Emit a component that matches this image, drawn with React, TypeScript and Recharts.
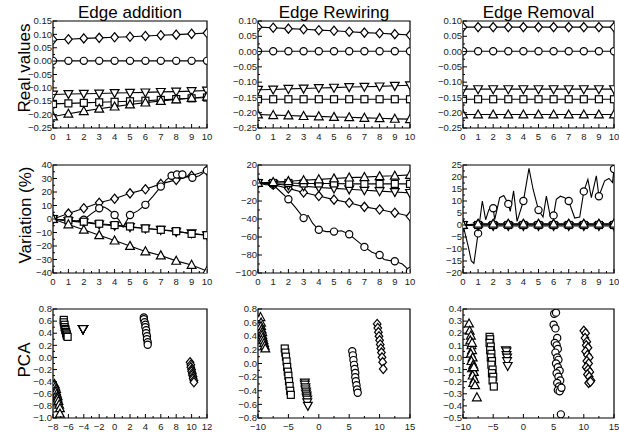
import React from "react";
import { ComposedChart, Line, Scatter, XAxis, YAxis, ReferenceArea } from "recharts";

// x steps shared by the line panels
const STEPS = [0, 1, 2, 3, 4, 5, 6, 7, 8, 9, 10];

// ---- row 1: real values
const addRealDiamond = [0.08, 0.082, 0.085, 0.087, 0.089, 0.091, 0.094, 0.097, 0.099, 0.102, 0.105];
const addRealCircle = [0.001, 0.001, 0.001, 0.001, 0.001, 0.001, 0.001, 0.001, 0.001, 0.001, 0.001];
const addRealDown = [-0.125, -0.123, -0.122, -0.121, -0.119, -0.118, -0.117, -0.115, -0.114, -0.112, -0.11];
const addRealSquare = [-0.16, -0.158, -0.156, -0.154, -0.152, -0.15, -0.148, -0.145, -0.142, -0.139, -0.136];
const addRealUp = [-0.207, -0.197, -0.187, -0.178, -0.17, -0.162, -0.155, -0.149, -0.143, -0.138, -0.133];

const rewRealDiamond = [0.08, 0.078, 0.075, 0.073, 0.07, 0.068, 0.065, 0.062, 0.06, 0.057, 0.054];
const rewRealCircle = [0.001, 0.001, 0.001, 0.001, 0.001, 0.001, 0.001, 0.001, 0.001, 0.001, 0.001];
const rewRealDown = [-0.125, -0.124, -0.122, -0.121, -0.119, -0.118, -0.116, -0.115, -0.114, -0.112, -0.11];
const rewRealSquare = [-0.156, -0.156, -0.156, -0.156, -0.156, -0.156, -0.156, -0.156, -0.156, -0.156, -0.156];
const rewRealUp = [-0.206, -0.208, -0.209, -0.211, -0.212, -0.214, -0.215, -0.217, -0.218, -0.22, -0.221];

const remRealDiamond = [0.08, 0.08, 0.08, 0.08, 0.08, 0.08, 0.08, 0.08, 0.08, 0.08, 0.08];
const remRealCircle = [0.001, 0.001, 0.001, 0.001, 0.001, 0.001, 0.001, 0.001, 0.001, 0.001, 0.001];
const remRealDown = [-0.123, -0.123, -0.123, -0.123, -0.123, -0.123, -0.123, -0.123, -0.123, -0.123, -0.123];
const remRealSquare = [-0.156, -0.156, -0.156, -0.156, -0.156, -0.156, -0.156, -0.156, -0.156, -0.156, -0.156];
const remRealUp = [-0.206, -0.206, -0.206, -0.206, -0.206, -0.206, -0.206, -0.206, -0.206, -0.206, -0.206];

// ---- row 2: variation (%)
const addVarDiamond = [0, 4, 8, 12, 15, 19, 22, 26, 29, 32, 36];
const addVarDown = [0, -1.5, -2.5, -4, -5, -6, -7, -8, -9.5, -10.5, -12];
const addVarSquare = [0, -1, -2, -3.5, -4.5, -5.5, -7, -8, -9, -11, -12];
const addVarUp = [0, -4, -8, -12, -16, -20, -24, -27, -31, -34, -38.5];
// circle series has extra unmarked points (mark: 1 = marker drawn)
const addVarCircleX = [0, 0.5, 1, 1.5, 2, 2.5, 3, 3.3, 3.6, 4, 4.3, 4.55, 5, 5.5, 6, 6.5, 7, 7.35, 7.7, 8.05, 8.4, 8.7, 9.05, 9.5, 10];
const addVarCircleY = [0, -0.5, -1, -1.5, -0.5, 4, 8, 9, 7, 3, -1, -6, 3, 6, 10.5, 17, 24, 29, 32, 33, 33, 31.5, 30.5, 32, 36];
const addVarCircleMark = [1, 0, 1, 0, 1, 0, 1, 0, 0, 1, 0, 0, 1, 0, 1, 0, 1, 0, 1, 1, 1, 0, 1, 0, 1];

const rewVarUp = [0, 1, 2, 3, 4, 5, 6, 6.5, 7.5, 8, 9];
const rewVarSquare = [0, 0, 0, -0.5, -0.5, -0.5, -1, -1, -1, -1, -1];
const rewVarDown = [0, -1, -2.5, -3.5, -5, -6, -7, -8, -9, -10, -11];
const rewVarDiamond = [0, -2, -6, -10.5, -14.5, -18.5, -22, -26.5, -29.5, -33, -37];
const rewVarCircleX = [0, 0.5, 1, 1.5, 2, 2.5, 3, 3.3, 3.6, 4, 4.5, 5, 5.5, 6, 6.5, 7, 7.5, 8, 8.3, 8.6, 9, 9.5, 10];
const rewVarCircleY = [0, -2, -2, -10, -18, -28, -39, -36, -45, -52, -54, -54, -53, -57, -64, -71, -77, -80, -85, -86, -87, -90, -98];
const rewVarCircleMark = [1, 0, 1, 0, 1, 0, 1, 0, 0, 1, 0, 1, 0, 1, 0, 1, 0, 1, 0, 0, 1, 0, 1];

const remVarDiamond = [0, 0.3, 0.3, 0.3, 0.3, 0.3, 0.3, 0.3, 0.3, 0.3, 0.3];
const remVarUp = [0, 0.5, 0.5, 0.5, 0.5, 0.5, 0.5, 0.5, 0.5, 0.5, 0.5];
const remVarSquare = [0, 0, 0, 0, 0, 0, 0, 0, 0, 0, 0];
const remVarDown = [0, -0.4, -0.4, -0.4, -0.4, -0.4, -0.4, -0.4, -0.4, -0.4, -0.4];
const remVarCircleX = [0, 0.35, 0.55, 0.72, 1, 1.28, 1.5, 1.72, 2, 2.1, 2.43, 2.7, 3, 3.13, 3.35, 3.58, 4, 4.37, 4.64, 5, 5.3, 5.52, 5.78, 6, 6.18, 6.45, 6.73, 7, 7.4, 7.73, 8, 8.27, 8.5, 8.83, 9, 9.38, 9.67, 9.9, 10];
const remVarCircleY = [0, -9, -15, -16, -3.5, 10, 2.2, 6.5, 7, 2.2, 11.4, 12.3, 8.8, 5.7, 14.2, 1.5, 10, 23.6, 14.9, 6.2, 3.3, 12, 3.6, 4, 10.7, 12, 11.4, 10, 2.9, 3.3, 14, 19, 11.4, 20.5, 12, 18.4, 19.4, 17.7, 23.3];
const remVarCircleMark = [1, 0, 0, 0, 1, 0, 0, 0, 1, 0, 0, 0, 1, 0, 0, 0, 1, 0, 0, 1, 0, 0, 0, 1, 0, 0, 0, 1, 0, 0, 1, 0, 0, 0, 1, 0, 0, 0, 1];

// ---- row 3: PCA projections
const addPcaUpX = [-7.8, -7.7, -7.6, -7.6, -7.5, -7.4, -7.4, -7.3, -7.2, -7.1, -7.1];
const addPcaUpY = [-0.44, -0.48, -0.52, -0.56, -0.6, -0.64, -0.68, -0.72, -0.78, -0.84, -0.93];
const addPcaSquareX = [-6.6, -6.6, -6.5, -6.5, -6.4, -6.4, -6.3, -6.3, -6.2, -6.2, -6.1];
const addPcaSquareY = [0.62, 0.58, 0.54, 0.5, 0.47, 0.45, 0.42, 0.4, 0.38, 0.36, 0.34];
const addPcaDownX = [-4.1, -4.1, -4.1, -4.1, -4.1, -4.1, -4.1, -4.1, -4.1, -4.1, -4.1];
const addPcaDownY = [0.47, 0.47, 0.47, 0.47, 0.47, 0.47, 0.47, 0.47, 0.47, 0.47, 0.47];
const addPcaCircleX = [3.8, 3.8, 3.9, 4.0, 4.0, 4.1, 4.1, 4.2, 4.2, 4.3, 4.3];
const addPcaCircleY = [0.66, 0.63, 0.58, 0.54, 0.5, 0.45, 0.4, 0.35, 0.3, 0.25, 0.21];
const addPcaDiamondX = [9.8, 9.9, 9.9, 10.0, 10.0, 10.1, 10.1, 10.2, 10.2, 10.3, 10.3];
const addPcaDiamondY = [-0.08, -0.12, -0.16, -0.2, -0.23, -0.26, -0.29, -0.32, -0.35, -0.38, -0.41];

const rewPcaUpX = [-9.6, -9.5, -9.5, -9.4, -9.3, -9.3, -9.2, -9.1, -9.0, -8.9, -8.8];
const rewPcaUpY = [0.68, 0.6, 0.55, 0.5, 0.46, 0.42, 0.38, 0.34, 0.3, 0.26, 0.22];
const rewPcaSquareX = [-5.6, -5.5, -5.4, -5.3, -5.2, -5.1, -5.0, -4.9, -4.8, -4.7, -4.6];
const rewPcaSquareY = [0.22, 0.16, 0.1, 0.03, -0.05, -0.12, -0.18, -0.26, -0.33, -0.4, -0.46];
const rewPcaDownX = [-2.3, -2.3, -2.2, -2.2, -2.1, -2.1, -2.0, -2.0, -1.9, -1.9, -1.8];
const rewPcaDownY = [-0.28, -0.31, -0.35, -0.38, -0.41, -0.44, -0.47, -0.5, -0.53, -0.57, -0.62];
const rewPcaCircleX = [5.5, 5.6, 5.7, 5.8, 5.9, 6.0, 6.0, 6.1, 6.2, 6.3, 6.4];
const rewPcaCircleY = [0.18, 0.12, 0.05, -0.02, -0.08, -0.14, -0.2, -0.26, -0.32, -0.38, -0.43];
const rewPcaDiamondX = [9.6, 9.7, 9.8, 9.9, 10.0, 10.1, 10.2, 10.3, 10.4, 10.5, 10.6];
const rewPcaDiamondY = [0.58, 0.52, 0.46, 0.4, 0.34, 0.28, 0.22, 0.16, 0.09, 0.02, -0.08];

const remPcaUpX = [-9.0, -8.9, -8.7, -8.8, -8.6, -8.5, -8.7, -8.4, -8.6, -8.3, -8.5, -8.2, -8.4, -8.1, -8.3, -8.0, -8.2, -8.5, -7.7];
const remPcaUpY = [0.28, 0.22, 0.18, 0.14, 0.1, 0.06, 0.03, 0.0, -0.03, -0.06, -0.09, -0.12, -0.15, -0.18, -0.21, -0.23, -0.08, 0.12, -0.33];
const remPcaSquareX = [-5.6, -5.5, -5.6, -5.4, -5.5, -5.3, -5.4, -5.2, -5.3, -5.1, -5.2, -5.0, -5.1, -4.9];
const remPcaSquareY = [0.17, 0.15, 0.12, 0.09, 0.06, 0.03, 0.0, -0.03, -0.06, -0.1, -0.13, -0.16, -0.19, -0.24];
const remPcaDownX = [-2.9, -2.8, -2.8, -2.7, -2.7, -2.6];
const remPcaDownY = [0.06, 0.05, 0.02, 0.0, -0.03, -0.07];
const remPcaCircleX = [5.1, 5.4, 5.0, 5.3, 5.6, 5.2, 5.5, 5.7, 5.3, 5.6, 5.8, 5.4, 5.7, 6.0, 5.5, 5.8, 6.1, 5.6, 5.9, 6.2, 5.7, 6.0, 6.3, 6.2];
const remPcaCircleY = [0.36, 0.37, 0.27, 0.24, 0.16, 0.12, 0.1, 0.07, 0.04, 0.0, -0.02, -0.05, -0.08, -0.11, -0.13, -0.16, -0.19, -0.21, -0.24, -0.26, -0.27, -0.28, -0.25, -0.47];
const remPcaDiamondX = [10.0, 10.3, 10.2, 10.5, 10.4, 10.7, 10.3, 10.6, 10.9, 10.5, 10.8, 10.4, 10.7, 11.0, 10.6, 10.9, 11.2, 10.8, 11.1];
const remPcaDiamondY = [0.22, 0.2, 0.16, 0.13, 0.1, 0.08, 0.05, 0.02, 0.0, -0.03, -0.05, -0.08, -0.1, -0.12, -0.14, -0.16, -0.19, -0.21, -0.2];

// ---- ticks and labels
const stepTicks = [0, 1, 2, 3, 4, 5, 6, 7, 8, 9, 10];
const realTicksA = [-0.25, -0.2, -0.15, -0.1, -0.05, 0, 0.05, 0.1, 0.15];
const realTicksB = [-0.25, -0.2, -0.15, -0.1, -0.05, 0, 0.05, 0.1];
const varTicksAdd = [-40, -30, -20, -10, 0, 10, 20, 30, 40];
const varTicksRew = [-100, -80, -60, -40, -20, 0, 20];
const varTicksRem = [-20, -15, -10, -5, 0, 5, 10, 15, 20, 25];
const pcaXTicksAdd = [-8, -6, -4, -2, 0, 2, 4, 6, 8, 10, 12];
const pcaXTicksOther = [-10, -5, 0, 5, 10, 15];
const pcaYTicksAdd = [-1.0, -0.8, -0.6, -0.4, -0.2, 0, 0.2, 0.4, 0.6, 0.8];
const pcaYTicksRew = [-0.8, -0.6, -0.4, -0.2, 0, 0.2, 0.4, 0.6, 0.8];
const pcaYTicksRem = [-0.5, -0.4, -0.3, -0.2, -0.1, 0, 0.1, 0.2, 0.3, 0.4];

const titles = ["Edge addition", "Edge Rewiring", "Edge Removal"];
const rowLabels = ["Real values", "Variation (%)", "PCA"];

// panel boxes in page pixels
const COLS = [{ l: 53, w: 154 }, { l: 258, w: 152 }, { l: 463, w: 151 }];
const ROWS = [{ t: 21, h: 107 }, { t: 165, h: 108 }, { t: 309, h: 109 }];

type Shape = "circle" | "diamond" | "square" | "up" | "down";
interface Pt { x: number; y: number; m?: boolean }
interface Series { shape: Shape; pts: Pt[] }

const onSteps = (vals: number[]): Pt[] => STEPS.map((x, i) => ({ x, y: vals[i] }));
const zipPts = (xs: number[], ys: number[], mark?: number[]): Pt[] =>
  xs.map((x, i) => ({ x, y: ys[i], m: mark ? mark[i] === 1 : true }));

const minus = (s: string) => s.replace("-", "\u2212");
const fmt2 = (v: number) => (Math.abs(v) < 1e-9 ? "0.00" : minus(v.toFixed(2)));
const fmt1 = (v: number) => (Math.abs(v) < 1e-9 ? "0.0" : minus(v.toFixed(1)));
const fmt0 = (v: number) => (Math.abs(v) < 1e-9 ? "0" : minus(String(v)));

const withMinors = (t: number[]) => {
  const out = [...t];
  for (let i = 0; i < t.length - 1; i++) out.push((t[i] + t[i + 1]) / 2);
  return out.sort((a, b) => a - b);
};

function Marker({ cx, cy, shape }: { cx: number; cy: number; shape: Shape }) {
  const s = { fill: "#fff", stroke: "#000", strokeWidth: 1.2 };
  if (cx == null || cy == null) return <g />;
  switch (shape) {
    case "circle":
      return <circle cx={cx} cy={cy} r={3.6} {...s} />;
    case "square":
      return <rect x={cx - 3.5} y={cy - 3.5} width={7} height={7} {...s} />;
    case "diamond":
      return <polygon points={`${cx},${cy - 4.6} ${cx + 3.8},${cy} ${cx},${cy + 4.6} ${cx - 3.8},${cy}`} {...s} />;
    case "up":
      return <polygon points={`${cx},${cy - 4.6} ${cx + 4.4},${cy + 3.4} ${cx - 4.4},${cy + 3.4}`} {...s} />;
    default:
      return <polygon points={`${cx},${cy + 4.6} ${cx + 4.4},${cy - 3.4} ${cx - 4.4},${cy - 3.4}`} {...s} />;
  }
}

function XTick({ x, y, payload, majors, fmt }: any) {
  const major = majors.includes(payload.value);
  return (
    <g>
      <line x1={x} x2={x} y1={y} y2={y - (major ? 4 : 2)} stroke="#000" />
      {major && (
        <text x={x} y={y + 12} textAnchor="middle" fontSize={9.5} fill="#222">
          {fmt(payload.value)}
        </text>
      )}
    </g>
  );
}

function YTick({ x, y, payload, majors, fmt }: any) {
  const major = majors.includes(payload.value);
  return (
    <g>
      <line x1={x} x2={x + (major ? 4 : 2)} y1={y} y2={y} stroke="#000" />
      {major && (
        <text x={x - 1} y={y + 3.2} textAnchor="end" fontSize={9.5} fill="#222">
          {fmt(payload.value)}
        </text>
      )}
    </g>
  );
}

interface PanelProps {
  col: number;
  row: number;
  xDomain: [number, number];
  xTicks: number[];
  xFmt: (v: number) => string;
  yDomain: [number, number];
  yTicks: number[];
  yFmt: (v: number) => string;
  lines?: Series[];
  points?: Series[];
}

function Panel({ col, row, xDomain, xTicks, xFmt, yDomain, yTicks, yFmt, lines = [], points = [] }: PanelProps) {
  const ML = 45, MT = 6, MR = 12, XH = 20;
  const { l, w } = COLS[col];
  const { t, h } = ROWS[row];
  return (
    <div style={{ position: "absolute", left: l - ML, top: t - MT }}>
      <ComposedChart width={w + ML + MR} height={h + MT + XH} margin={{ top: MT, right: MR, bottom: 0, left: 0 }}>
        <XAxis
          type="number"
          dataKey="x"
          domain={xDomain}
          allowDataOverflow
          ticks={withMinors(xTicks)}
          interval={0}
          tickSize={0}
          tickMargin={0}
          axisLine={false}
          tickLine={false}
          height={XH}
          tick={(p: any) => <XTick {...p} majors={xTicks} fmt={xFmt} />}
        />
        <YAxis
          type="number"
          dataKey="y"
          domain={yDomain}
          allowDataOverflow
          ticks={withMinors(yTicks)}
          interval={0}
          tickSize={0}
          tickMargin={0}
          axisLine={false}
          tickLine={false}
          width={ML}
          tick={(p: any) => <YTick {...p} majors={yTicks} fmt={yFmt} />}
        />
        <ReferenceArea x1={xDomain[0]} x2={xDomain[1]} y1={yDomain[0]} y2={yDomain[1]} fill="none" stroke="#000" strokeWidth={1.2} />
        {lines.map((s, i) => (
          <Line
            key={`l${i}`}
            data={s.pts}
            dataKey="y"
            type="linear"
            stroke="#000"
            strokeWidth={1.1}
            isAnimationActive={false}
            activeDot={false}
            dot={(p: any) =>
              p.payload.m === false ? <g key={`d${i}-${p.index}`} /> : <Marker key={`d${i}-${p.index}`} cx={p.cx} cy={p.cy} shape={s.shape} />
            }
          />
        ))}
        {points.map((s, i) => (
          <Scatter
            key={`s${i}`}
            data={s.pts}
            isAnimationActive={false}
            shape={(p: any) => <Marker cx={p.cx} cy={p.cy} shape={s.shape} />}
          />
        ))}
      </ComposedChart>
    </div>
  );
}

export default function App() {
  const realFive = (d: number[], c: number[], dn: number[], sq: number[], up: number[]): Series[] => [
    { shape: "diamond", pts: onSteps(d) },
    { shape: "circle", pts: onSteps(c) },
    { shape: "down", pts: onSteps(dn) },
    { shape: "square", pts: onSteps(sq) },
    { shape: "up", pts: onSteps(up) },
  ];
  const labelY = [68, 215, 360];
  const labelX = [30, 31, 30];
  return (
    <div style={{ position: "absolute", left: 0, top: 0, width: 619, height: 436, background: "#fff", fontFamily: "'Liberation Sans', Arial, Helvetica, sans-serif" }}>
      {/* row 1 */}
      <Panel col={0} row={0} xDomain={[0, 10]} xTicks={stepTicks} xFmt={fmt0} yDomain={[-0.25, 0.15]} yTicks={realTicksA} yFmt={fmt2}
        lines={realFive(addRealDiamond, addRealCircle, addRealDown, addRealSquare, addRealUp)} />
      <Panel col={1} row={0} xDomain={[0, 10]} xTicks={stepTicks} xFmt={fmt0} yDomain={[-0.25, 0.1]} yTicks={realTicksB} yFmt={fmt2}
        lines={realFive(rewRealDiamond, rewRealCircle, rewRealDown, rewRealSquare, rewRealUp)} />
      <Panel col={2} row={0} xDomain={[0, 10]} xTicks={stepTicks} xFmt={fmt0} yDomain={[-0.25, 0.1]} yTicks={realTicksB} yFmt={fmt2}
        lines={realFive(remRealDiamond, remRealCircle, remRealDown, remRealSquare, remRealUp)} />

      {/* row 2 */}
      <Panel col={0} row={1} xDomain={[0, 10]} xTicks={stepTicks} xFmt={fmt0} yDomain={[-40, 40]} yTicks={varTicksAdd} yFmt={fmt0}
        lines={[
          { shape: "diamond", pts: onSteps(addVarDiamond) },
          { shape: "circle", pts: zipPts(addVarCircleX, addVarCircleY, addVarCircleMark) },
          { shape: "down", pts: onSteps(addVarDown) },
          { shape: "square", pts: onSteps(addVarSquare) },
          { shape: "up", pts: onSteps(addVarUp) },
        ]} />
      <Panel col={1} row={1} xDomain={[0, 10]} xTicks={stepTicks} xFmt={fmt0} yDomain={[-100, 20]} yTicks={varTicksRew} yFmt={fmt0}
        lines={[
          { shape: "diamond", pts: onSteps(rewVarDiamond) },
          { shape: "circle", pts: zipPts(rewVarCircleX, rewVarCircleY, rewVarCircleMark) },
          { shape: "down", pts: onSteps(rewVarDown) },
          { shape: "square", pts: onSteps(rewVarSquare) },
          { shape: "up", pts: onSteps(rewVarUp) },
        ]} />
      <Panel col={2} row={1} xDomain={[0, 10]} xTicks={stepTicks} xFmt={fmt0} yDomain={[-20, 25]} yTicks={varTicksRem} yFmt={fmt0}
        lines={[
          { shape: "circle", pts: zipPts(remVarCircleX, remVarCircleY, remVarCircleMark) },
          { shape: "diamond", pts: onSteps(remVarDiamond) },
          { shape: "down", pts: onSteps(remVarDown) },
          { shape: "square", pts: onSteps(remVarSquare) },
          { shape: "up", pts: onSteps(remVarUp) },
        ]} />

      {/* row 3 */}
      <Panel col={0} row={2} xDomain={[-8, 12]} xTicks={pcaXTicksAdd} xFmt={fmt0} yDomain={[-1, 0.8]} yTicks={pcaYTicksAdd} yFmt={fmt1}
        points={[
          { shape: "up", pts: zipPts(addPcaUpX, addPcaUpY) },
          { shape: "square", pts: zipPts(addPcaSquareX, addPcaSquareY) },
          { shape: "down", pts: zipPts(addPcaDownX, addPcaDownY) },
          { shape: "circle", pts: zipPts(addPcaCircleX, addPcaCircleY) },
          { shape: "diamond", pts: zipPts(addPcaDiamondX, addPcaDiamondY) },
        ]} />
      <Panel col={1} row={2} xDomain={[-10, 15]} xTicks={pcaXTicksOther} xFmt={fmt0} yDomain={[-0.8, 0.8]} yTicks={pcaYTicksRew} yFmt={fmt1}
        points={[
          { shape: "up", pts: zipPts(rewPcaUpX, rewPcaUpY) },
          { shape: "square", pts: zipPts(rewPcaSquareX, rewPcaSquareY) },
          { shape: "down", pts: zipPts(rewPcaDownX, rewPcaDownY) },
          { shape: "circle", pts: zipPts(rewPcaCircleX, rewPcaCircleY) },
          { shape: "diamond", pts: zipPts(rewPcaDiamondX, rewPcaDiamondY) },
        ]} />
      <Panel col={2} row={2} xDomain={[-10, 15]} xTicks={pcaXTicksOther} xFmt={fmt0} yDomain={[-0.5, 0.4]} yTicks={pcaYTicksRem} yFmt={fmt1}
        points={[
          { shape: "up", pts: zipPts(remPcaUpX, remPcaUpY) },
          { shape: "square", pts: zipPts(remPcaSquareX, remPcaSquareY) },
          { shape: "down", pts: zipPts(remPcaDownX, remPcaDownY) },
          { shape: "circle", pts: zipPts(remPcaCircleX, remPcaCircleY) },
          { shape: "diamond", pts: zipPts(remPcaDiamondX, remPcaDiamondY) },
        ]} />

      {/* titles and row labels */}
      <svg width={619} height={436} style={{ position: "absolute", left: 0, top: 0, pointerEvents: "none" }}>
        {titles.map((tt, i) => (
          <text key={tt} x={COLS[i].l + COLS[i].w / 2} y={18} textAnchor="middle" fontSize={17} fill="#000">
            {tt}
          </text>
        ))}
        {rowLabels.map((lb, i) => (
          <text key={lb} x={labelX[i]} y={labelY[i]} transform={`rotate(-90 ${labelX[i]} ${labelY[i]})`} textAnchor="middle" fontSize={17} fill="#000">
            {lb}
          </text>
        ))}
      </svg>
    </div>
  );
}
